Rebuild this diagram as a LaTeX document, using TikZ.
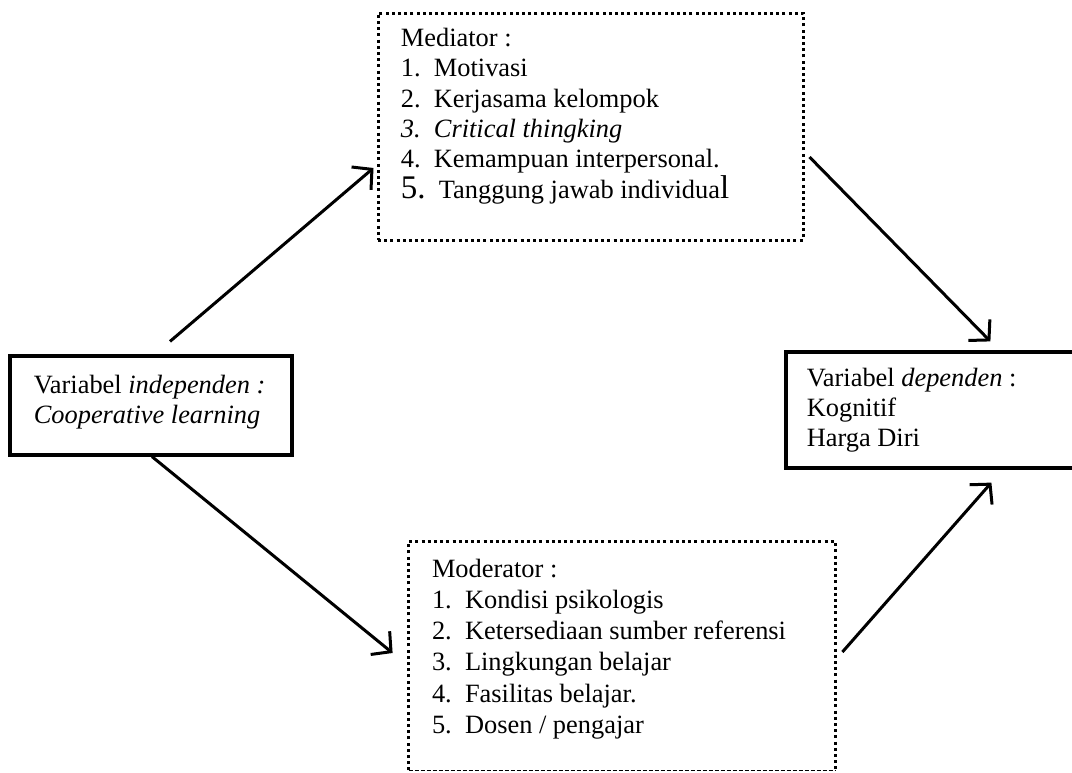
\documentclass[tikz,border=0pt]{standalone}
\usepackage{fontspec}
\setmainfont{Liberation Serif}
\usetikzlibrary{arrows.meta,calc}

\newcommand{\numlbl}[1]{\makebox[16.5pt][l]{#1}}

\begin{document}
\begin{tikzpicture}[x=0.5pt, y=-0.5pt,
    solidbox/.style={draw, line width=1.6pt, inner sep=0pt},
    dotbox/.style={line width=1.5pt, dash pattern=on 1.5pt off 1.6pt},
    boxtext/.style={anchor=north west, inner sep=0pt, align=left, font=\fontsize{13.2}{15.2}\selectfont},
    arr/.style={-{Straight Barb[length=7pt,width=15pt]}, line width=1.5pt}]
  \useasboundingbox (0,0) rectangle (1072,772);

  % Boxes
  \node[solidbox, minimum width=141pt, minimum height=49.5pt] (indep) at (151,405.5) {};
  \node[solidbox, minimum width=152pt, minimum height=58pt] (dep) at (938,410) {};
  \node[dotbox, draw, inner sep=0pt, minimum width=212.5pt, minimum height=113.5pt] (med) at (590.5,126.5) {};
  \node[inner sep=0pt, minimum width=213pt, minimum height=114pt] (mod) at (622,656) {};
  \draw[dotbox] (mod.south west) -- (mod.north west) -- (mod.north east) -- (mod.south east);
  \draw[line width=0.5pt, dash pattern=on 2pt off 1pt] (mod.south west) -- (mod.south east);

  % Texts
  \node[boxtext] (indeptxt) at ($(indep.north west)+(25,20)$)
    {Variabel \textit{independen :}\\ \textit{Cooperative learning}};
  \node[boxtext] (deptxt) at ($(dep.north west)+(22,17)$)
    {Variabel \textit{dependen} :\\ Kognitif\\ Harga Diri};
  \node[boxtext] (medtxt) at ($(med.north west)+(24,16)$)
    {Mediator :\\
     \numlbl{1.}Motivasi\\
     \numlbl{2.}Kerjasama kelompok\\
     \textit{\numlbl{3.}Critical thingking}\\
     \numlbl{4.}Kemampuan interpersonal.\\
     \makebox[19pt][l]{\fontsize{16.5}{15}\selectfont 5.}Tanggung jawab individua{\fontsize{16.5}{15}\selectfont l}};
  \node[boxtext, font=\fontsize{13.2}{15.6}\selectfont] (modtxt) at ($(mod.north west)+(23,17)$)
    {Moderator :\\
     \numlbl{1.}Kondisi psikologis\\
     \numlbl{2.}Ketersediaan sumber referensi\\
     \numlbl{3.}Lingkungan belajar\\
     \numlbl{4.}Fasilitas belajar.\\
     \numlbl{5.}Dosen / pengajar};

  % Arrows
  \draw[arr] ($(indep.north)+(19,-13)$) -- ($(med.west)+(-3,41.5)$);
  \draw[arr] ($(med.east)+(5,30.5)$) -- ($(dep.north west)+(206,-9)$);
  \draw[arr] ($(indep.south)+(1,0)$) -- ($(mod.west)+(-16,-3)$);
  \draw[arr] ($(mod.east)+(7,-4)$) -- ($(dep.south west)+(207,13)$);
\end{tikzpicture}
\end{document}
